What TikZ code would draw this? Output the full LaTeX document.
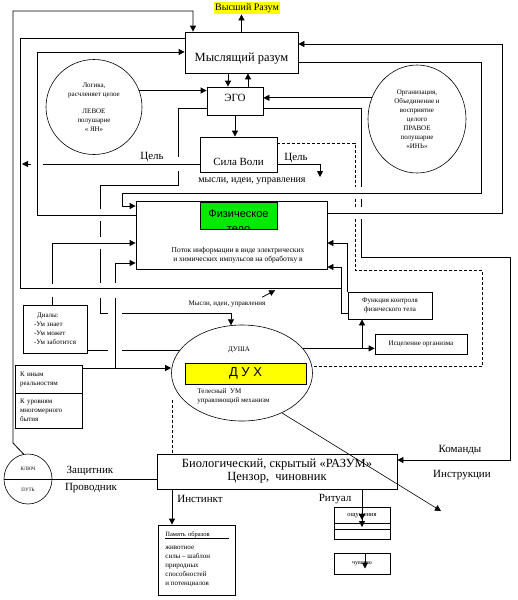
\documentclass[tikz,border=0pt]{standalone}
\usepackage{fontspec}
\setmainfont{Liberation Serif}
\newfontfamily\arialfont{Liberation Sans}
\usepackage{tikz}
\usetikzlibrary{arrows.meta,shapes.geometric}
\definecolor{hlY}{RGB}{255,255,0}
\definecolor{bodyG}{RGB}{0,235,0}

\begin{document}
\begin{tikzpicture}[
  x=1pt,y=-1pt,
  line width=0.8pt,
  box/.style={draw,rectangle,inner sep=0pt,align=center},
  oval/.style={draw,ellipse,inner sep=0pt,align=center,line width=0.6pt},
  arr/.style={-{Triangle[length=6pt,width=6pt]}},
  dsh/.style={dash pattern=on 3pt off 2pt},
  bigf/.style={font=\fontsize{12.5}{13}\selectfont},
  midf/.style={font=\fontsize{11}{13}\selectfont},
  smallf/.style={font=\fontsize{7}{9}\selectfont},
  drop/.style={text height=#1,text depth=0pt}
]
  \useasboundingbox (0,0) rectangle (518,600);

  % Top: higher mind, thinking mind, ego, will
  \node[fill=hlY,inner sep=1.5pt,font=\fontsize{10}{12}\selectfont] (high) at (247,8) {Высший Разум};
  \node[box,bigf,minimum width=113pt,minimum height=41pt,drop=17pt] (mind) at (241.5,52.5) {Мыслящий разум};
  \node[box,midf,minimum width=56pt,minimum height=28pt,drop=0pt] (ego) at (235,101) {ЭГО};
  \node[box,midf,minimum width=77pt,minimum height=35pt,drop=21pt] (will) at (238.5,154.5) {Сила Воли};

  % Hemispheres
  \node[oval,smallf,minimum width=96pt,minimum height=95pt] (yan) at (94,107)
    {Логика,\\расчленяет целое\\[8pt]ЛЕВОЕ\\полушарие\\« ЯН»};
  \node[oval,smallf,minimum width=98pt,minimum height=108pt] (yin) at (417,119)
    {Организация,\\Объединение и\\восприятие\\целого\\ПРАВОЕ\\полушарие\\«ИНЬ»};

  % Physical body
  \node[box,minimum width=191pt,minimum height=68pt] (fiz) at (231.5,235) {};
  \node[box,fill=bodyG,minimum width=77pt,minimum height=27pt] (fizlbl) at (238.5,215.5) {};
  \begin{scope}
    \clip (fizlbl.south west) rectangle (fizlbl.north east);
    \node[align=center,font=\arialfont\fontsize{11}{15}\selectfont] (fiztxt) at (238.5,221) {Физическое\\тело};
  \end{scope}
  \node[align=center,font=\fontsize{7.5}{9}\selectfont] (flow) at (238,255.5)
    {Поток информации в виде электрических\\и химических импульсов на обработку в};

  % Soul
  \node[oval,minimum width=141pt,minimum height=96pt] (dusha) at (242,373) {};
  \node[smallf] (soul) at (239,350) {ДУША};
  \node[box,fill=hlY,minimum width=121pt,minimum height=21pt,font=\arialfont\fontsize{13}{15}\selectfont] (spirit) at (245.5,373.5) {Д У Х};
  \node[smallf,align=left,anchor=north west,inner sep=0pt] (bodymind) at (197,388) {Телесный\ \ УМ\\управляющий механизм};

  % Right side boxes
  \node[box,smallf,minimum width=84pt,minimum height=27pt] (func) at (390,305.5) {Функция контроля\\физического тела};
  \node[box,smallf,minimum width=92pt,minimum height=20pt] (heal) at (421,344) {Исцеление организма};

  % Left side boxes
  \node[box,smallf,align=left,minimum width=64pt,minimum height=48pt] (dial) at (55,329)
    {\hspace{3pt}Диалы:\\-Ум знает\\-Ум может\\-Ум заботится};
  \node[box,smallf,align=left,text width=57pt,minimum width=67pt,minimum height=28pt] (other) at (48.5,379) {К иным\\реальностям};
  \node[box,smallf,align=left,text width=57pt,minimum width=67pt,minimum height=35pt] (levels) at (48.5,410.5) {К уровням\\многомерного\\бытия};

  % Key / path
  \node[oval,minimum width=48pt,minimum height=50pt] (key) at (28,479) {};
  \node[font=\fontsize{5}{6}\selectfont] (keytxt) at (28,469) {КЛЮЧ};
  \node[font=\fontsize{5}{6}\selectfont] (pathtxt) at (28,490) {ПУТЬ};

  % Biological mind and below
  \node[box,bigf,minimum width=240pt,minimum height=35pt] (bio) at (277,471.5)
    {Биологический, скрытый «РАЗУМ»\\Цензор,\ \ чиновник};
  \node[box,minimum width=77pt,minimum height=70pt] (mem) at (196.5,560) {};
  \node[anchor=base west,inner sep=0pt,text width=63pt,font=\fontsize{6.5}{8}\selectfont] (memtitle) at (165,536) {Память образов};
  \draw[line width=0.5pt] (memtitle.south west) -- (memtitle.south east);
  \node[anchor=north west,inner sep=0pt,align=left,smallf] (memtxt) at (165,546)
    {животное\\силы – шаблон\\природных\\способностей\\и потенциалов};
  \node[box,minimum width=56pt,minimum height=32pt] (sens) at (362,523) {};
  \node[font=\fontsize{6.5}{8}\selectfont] (senstxt) at (362,515.5) {ощущения};
  \draw[line width=0.5pt] (sens.west |- 0,523) -- (sens.east |- 0,523);
  \draw[line width=0.5pt] (sens.west |- 0,529) -- (sens.east |- 0,529);
  \node[box,font=\fontsize{6}{7}\selectfont,minimum width=56pt,minimum height=21pt] (feel) at (362,563.5) {чувство};

  % Labels
  \node[midf] (goalLt) at (152,157) {Цель};
  \node[midf] (goalRt) at (296,158) {Цель};
  \node[font=\fontsize{10}{12}\selectfont] (thoughts) at (252,181) {мысли, идеи, управления};
  \node[smallf] (ideas) at (227,304) {Мысли, идеи, управления};
  \node[midf] (guard) at (90,471) {Защитник};
  \node[midf] (guide) at (91,488) {Проводник};
  \node[midf] (instinct) at (200,499) {Инстинкт};
  \node[midf] (ritual) at (335,499) {Ритуал};
  \node[midf] (commands) at (460,450) {Команды};
  \node[midf] (instr) at (462,475) {Инструкции};

  % Free ends
  \coordinate (goalLend) at (22,164);
  \coordinate (goalRend) at (320,177);
  \coordinate (lineBend) at (341,288);
  \coordinate (dashtop) at (172,400);
  \coordinate (branchFiz) at (115,368);
  \coordinate (diagEnd) at (441,511);

  % Arrows around the thinking mind
  \draw[arr] (mind.north) -- (mind.north |- high.south);
  \draw[arr] (key.100) -- (13,443) -- (13,11) -| (mind.north -| 193,0);
  \draw (mind.west |- 0,38) -- (20,38) -- (20,288) -- (lineBend);
  \draw[arr] (fiz.west |- 0,215) -- (37,215) -- (37,52) -- (mind.west |- 0,52);
  \draw[arr] (mind.east |- 0,62) -- (481,62) -- (481,193) -- (122,193) -- (122,206) -- (fiz.west |- 0,206);
  \draw[arr] (fiz.east |- 0,213) -- (502,213) -- (502,44) -- (mind.east |- 0,44);
  \draw[arr] (mind.south -| 228,0) -- (ego.north -| 228,0);
  \draw[arr] (ego.north -| 248,0) -- (mind.south -| 248,0);

  % Ego (gaps where lines cross)
  \draw[arr] (yan.20) -- (ego.west |- yan.20);
  \draw[arr] (yin.155) -- (ego.east |- yin.155);
  \draw[arr] (ego.south) -- (ego.south |- will.north);
  \draw[arr] (ego.west |- 0,108) -- (178,108) -- (178,157) (178,171) -- (178,185) -- (100,185)
    -- (100,209) (100,221) -- (100,237) (100,249) -- (100,283) (100,298) -- (100,313) -- (108,313)
    (122,313) -- (dusha.103 |- 0,313) -- (dusha.103);
  \draw[arr] (ego.east |- 0,108) -- (361,108) -- (361,187) (361,199) -- (361,207) (361,219)
    -- (361,257) -- (510,257) -- (510,460) -- (bio.east |- 0,460);

  % Will
  \draw[arr] (will.west |- 0,164) -- (43,164) (31,164) -- (goalLend);
  \draw[arr] (will.east |- 0,164) -| (goalRend);
  \draw[dsh] (will.east |- 0,143) -- (355,143) -- (355,187) (355,199) -- (355,207) (355,219)
    -- (355,270) -- (482,270) -- (482,0 |- dusha.5) -- (dusha.5);

  % Physical body inputs
  \draw[arr] (dial.north -| 52,0) -- (52,297) (52,284) -- (52,243) -- (fiz.west |- 0,243);
  \draw[arr] (branchFiz) -- (115,298) (115,283) -- (115,263) -- (fiz.west |- 0,263);
  \draw[arr] (func.north west) |- (fiz.east |- 0,243);
  \draw[arr] (func.west |- 0,313) -- (341,313) -- (341,267) -- (fiz.east |- 0,267);
  \draw[arr] ([xshift=-7pt]ideas.north east) -- ++(13,-7);

  % Soul
  \draw[arr] (other.east |- 0,368) -- (dusha.west |- 0,368);
  \draw (dial.east |- dusha.160) -- (108,0 |- dusha.160) (122,0 |- dusha.160) -- (dusha.160);
  \draw[arr] (dusha.22) -- (heal.west |- dusha.22);
  \draw[arr] (362,0 |- dusha.22) -- (362,0 |- func.south);
  \draw[arr,line width=0.6pt] (dusha.-45) -- (diagEnd);
  \draw[dsh] (dashtop) -- (dashtop |- bio.north);

  % Key and biological mind
  \draw (key.west) -- (bio.west |- key.west);
  \draw[arr] (bio.south -| 172,0) -- (mem.north -| 172,0);
  \draw[arr] (bio.south -| sens.north) -- ([yshift=3pt]sens.center);
  \draw[arr] (bio.south -| sens.north) -- ([yshift=-4pt]sens.center);
  \draw[arr] ([xshift=3pt]feel.north) -- ([xshift=3pt,yshift=-5pt]feel.center);
\end{tikzpicture}
\end{document}
